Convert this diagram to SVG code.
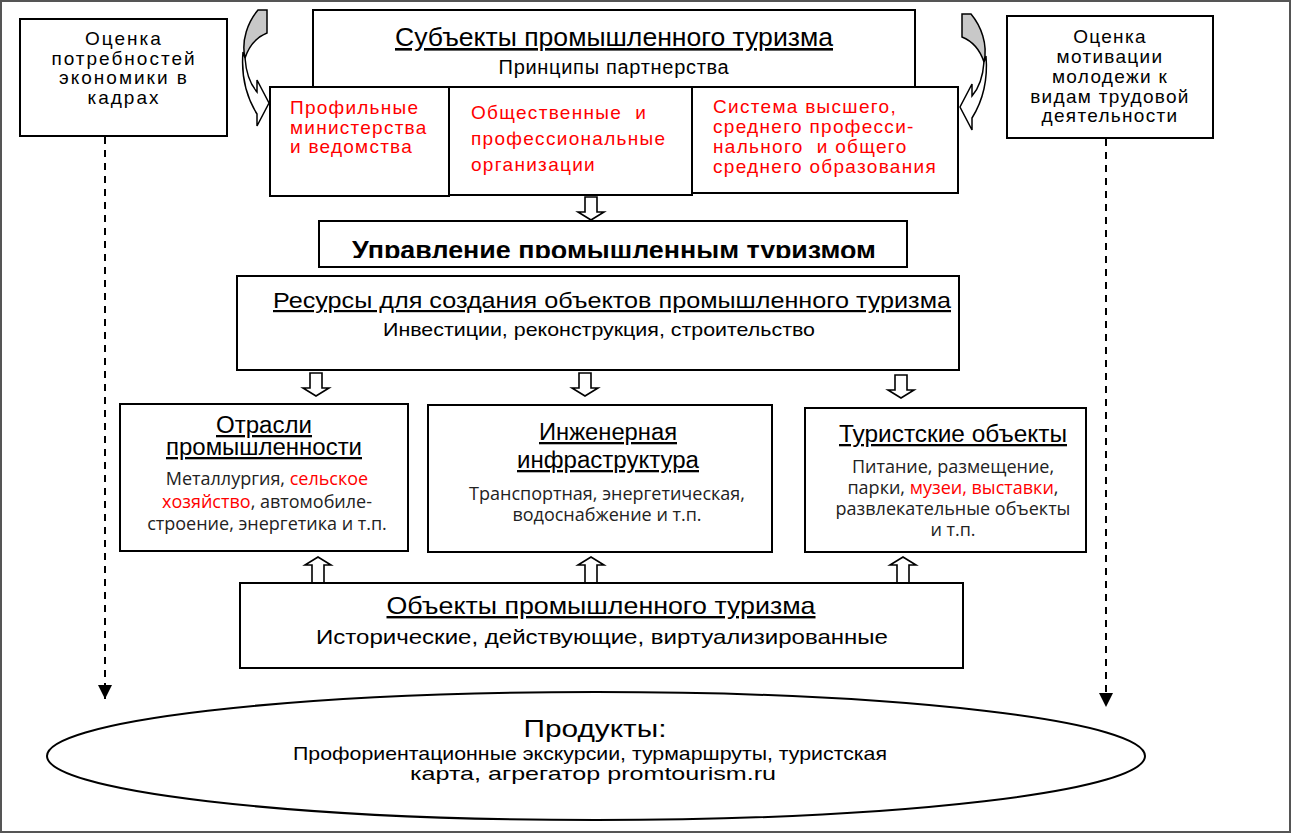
<svg xmlns="http://www.w3.org/2000/svg" xmlns:xlink="http://www.w3.org/1999/xlink" width="1292" height="835" viewBox="0 0 1292 835">
<style>
.box{fill:#fff;stroke:#000;stroke-width:2}
.a{font-family:"Liberation Sans",Arial,sans-serif;fill:#000}
.o{font-family:"Open Sans","Noto Sans",sans-serif;fill:#222}
.red{fill:#ff0000}
.u{text-decoration:underline}
.c{text-anchor:middle}
.dash{fill:none;stroke:#000;stroke-width:2;stroke-dasharray:7 6}
.hol{fill:#fff;stroke:#000;stroke-width:1.6;stroke-linejoin:miter}
</style>
<defs>
<marker id="ah" markerUnits="userSpaceOnUse" markerWidth="16" markerHeight="16" viewBox="0 0 16 16" refX="14" refY="8" orient="auto">
<path d="M0,1 L14,8 L0,15 Z" fill="#000"/>
</marker>
<path id="hdown" d="M-6,0 H6 V15 H13 L0,23 L-13,15 H-6 Z"/>
<path id="hup" d="M-6,26 H6 V8 H13 L0,0 L-13,8 H-6 Z"/>
<g id="curv">
<path d="M258,10 L267,10 L267,33 C257,37 249,46 245,58 C241,40 248,22 258,10 Z" fill="#c8c8c8" stroke="#000" stroke-width="1.5"/>
<path d="M243,52 C241,76 247,98 257,114 L257,126 L269,103 L257,80 L257,92 C250,84 246,72 245,58 Z" fill="#fff" stroke="#000" stroke-width="1.5" stroke-linejoin="miter"/>
</g>
<clipPath id="clipM"><rect x="320" y="222" width="586" height="36"/></clipPath>
</defs>

<rect x="1" y="1" width="1289" height="831" fill="#fff" stroke="#555" stroke-width="2"/>

<g id="connectors">
<line class="dash" x1="105" y1="137" x2="105" y2="699" marker-end="url(#ah)"/>
<line class="dash" x1="1106" y1="139" x2="1106" y2="707" marker-end="url(#ah)"/>
<use xlink:href="#curv"/>
<use xlink:href="#curv" transform="translate(1229,4) scale(-1,1)"/>
<use xlink:href="#hdown" class="hol" x="591" y="197"/>
<use xlink:href="#hdown" class="hol" x="316" y="373"/>
<use xlink:href="#hdown" class="hol" x="585" y="373"/>
<use xlink:href="#hdown" class="hol" x="901" y="375"/>
<use xlink:href="#hup" class="hol" x="318" y="557"/>
<use xlink:href="#hup" class="hol" x="591" y="557"/>
<use xlink:href="#hup" class="hol" x="903" y="557"/>
</g>

<g id="node-needs">
<rect class="box" x="20" y="19" width="207" height="117"/>
<text class="a c" font-size="19" letter-spacing="2"><tspan x="124" y="45">Оценка</tspan><tspan x="124" y="64.5">потребностей</tspan><tspan x="124" y="84">экономики в</tspan><tspan x="124" y="103.5">кадрах</tspan></text>
</g>

<g id="node-motivation">
<rect class="box" x="1007" y="16" width="206" height="122"/>
<text class="a c" font-size="19" letter-spacing="1.3"><tspan x="1110" y="43">Оценка</tspan><tspan x="1110" y="63">мотивации</tspan><tspan x="1110" y="83">молодежи к</tspan><tspan x="1110" y="103">видам трудовой</tspan><tspan x="1110" y="122">деятельности</tspan></text>
</g>

<g id="node-subjects">
<rect class="box" x="313" y="10" width="602" height="78"/>
<text class="a c u" font-size="26" x="614" y="46" textLength="438" lengthAdjust="spacingAndGlyphs">Субъекты промышленного туризма</text>
<text class="a c" font-size="20" letter-spacing="0.7" x="614" y="74">Принципы партнерства</text>
</g>

<g id="node-ministries">
<rect class="box" x="270" y="87" width="179" height="109"/>
<text class="a red" font-size="19" letter-spacing="1.25"><tspan x="290" y="114">Профильные</tspan><tspan x="290" y="133.5">министерства</tspan><tspan x="290" y="153">и ведомства</tspan></text>
</g>

<g id="node-organizations">
<rect class="box" x="449" y="87" width="243" height="108"/>
<text class="a red" font-size="19" letter-spacing="1.3" xml:space="preserve"><tspan x="471" y="119">Общественные  и</tspan><tspan x="471" y="145">профессиональные</tspan><tspan x="471" y="171">организации</tspan></text>
</g>

<g id="node-education">
<rect class="box" x="692" y="87" width="266" height="106"/>
<text class="a red" font-size="19" letter-spacing="1.3" xml:space="preserve"><tspan x="713" y="113">Система высшего,</tspan><tspan x="713" y="133">среднего професси-</tspan><tspan x="713" y="153">нального  и общего</tspan><tspan x="713" y="173">среднего образования</tspan></text>
</g>

<g id="node-management">
<rect class="box" x="319" y="221" width="588" height="46"/>
<text class="a c" font-size="26" font-weight="bold" x="614" y="259" textLength="524" lengthAdjust="spacingAndGlyphs" clip-path="url(#clipM)">Управление промышленным туризмом</text>
</g>

<g id="node-resources">
<rect class="box" x="237" y="276" width="722" height="94"/>
<text class="a c u" font-size="22" x="612" y="308" textLength="678" lengthAdjust="spacingAndGlyphs">Ресурсы для создания объектов промышленного туризма</text>
<text class="a c" font-size="19" x="599" y="336" textLength="432" lengthAdjust="spacingAndGlyphs">Инвестиции, реконструкция, строительство</text>
</g>

<g id="node-industry">
<rect class="box" x="120" y="404" width="288" height="147"/>
<text class="a c u" font-size="23" x="264" y="433" textLength="96" lengthAdjust="spacingAndGlyphs">Отрасли</text>
<text class="a c u" font-size="23" x="264" y="455" textLength="196" lengthAdjust="spacingAndGlyphs">промышленности</text>
<text class="o c" font-size="18"><tspan x="267" y="485">Металлургия, <tspan class="red">сельское</tspan></tspan><tspan x="267" y="508"><tspan class="red">хозяйство</tspan>, автомобиле-</tspan><tspan x="267" y="530">строение, энергетика и т.п.</tspan></text>
</g>

<g id="node-infrastructure">
<rect class="box" x="428" y="405" width="344" height="147"/>
<text class="a c u" font-size="23" x="608" y="440" textLength="138" lengthAdjust="spacingAndGlyphs">Инженерная</text>
<text class="a c u" font-size="23" x="608" y="468" textLength="182" lengthAdjust="spacingAndGlyphs">инфраструктура</text>
<text class="o c" font-size="18"><tspan x="607" y="500">Транспортная, энергетическая,</tspan><tspan x="607" y="521">водоснабжение и т.п.</tspan></text>
</g>

<g id="node-tourist">
<rect class="box" x="805" y="408" width="281" height="144"/>
<text class="a c u" font-size="23" x="953" y="442" textLength="228" lengthAdjust="spacingAndGlyphs">Туристские объекты</text>
<text class="o c" font-size="18"><tspan x="953" y="473">Питание, размещение,</tspan><tspan x="953" y="494">парки, <tspan class="red">музеи, выставки</tspan>,</tspan><tspan x="953" y="515">развлекательные объекты</tspan><tspan x="953" y="536">и т.п.</tspan></text>
</g>

<g id="node-objects">
<rect class="box" x="240" y="583" width="723" height="85"/>
<text class="a c u" font-size="24" x="601" y="614" textLength="429" lengthAdjust="spacingAndGlyphs">Объекты промышленного туризма</text>
<text class="a c" font-size="21" x="602" y="644" textLength="572" lengthAdjust="spacingAndGlyphs">Исторические, действующие, виртуализированные</text>
</g>

<g id="node-products">
<ellipse cx="596" cy="756" rx="549" ry="64" fill="#fff" stroke="#000" stroke-width="2"/>
<text class="a c" font-size="24" x="595" y="737" textLength="143" lengthAdjust="spacingAndGlyphs">Продукты:</text>
<text class="a c" font-size="19" x="590" y="760" textLength="594" lengthAdjust="spacingAndGlyphs">Профориентационные экскурсии, турмаршруты, туристская</text>
<text class="a c" font-size="19" x="593" y="780" textLength="366" lengthAdjust="spacingAndGlyphs">карта, агрегатор promtourism.ru</text>
</g>
</svg>
